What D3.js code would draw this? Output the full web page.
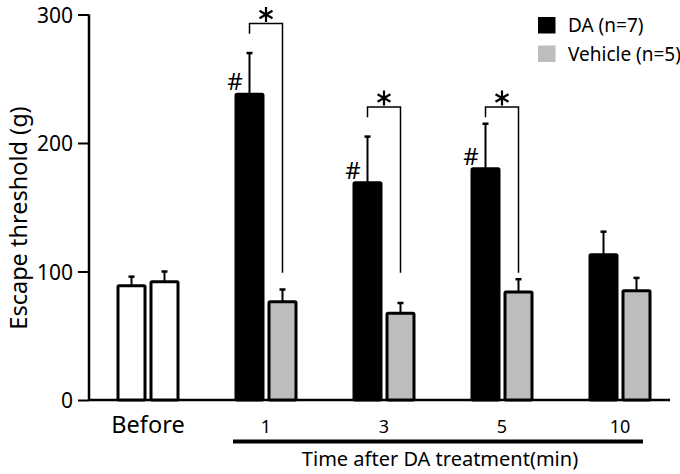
<!DOCTYPE html>
<html><head><meta charset="utf-8">
<script src="https://cdn.jsdelivr.net/npm/d3@7"></script>
<style>body{margin:0;background:#fff}svg{display:block}text{font-family:"Noto Sans","Open Sans",sans-serif;fill:#000}</style>
</head><body><div id="chart"></div>
<script>
const groups = ["Before", "1", "3", "5", "10"];
const daMean = [89, 238, 169, 180, 113];
const daErr = [7, 32, 36, 35, 18];
const vehMean = [92, 76.5, 67.5, 84, 85];
const vehErr = [8, 9.5, 8, 10, 10];
const yTicks = [0, 100, 200, 300];
const sigGroups = ["1", "3", "5"];
const bracketTop = [293, 228, 228];
const bracketLeftEnd = [285, 220, 220];
const bracketRightEnd = [99, 99, 99];
const hashGroups = ["1", "3", "5"];
const legendLabels = ["DA (n=7)", "Vehicle (n=5)"];

const W = 680, H = 474;
const svg = d3.select("#chart").append("svg").attr("width", W).attr("height", H);
const x = d3.scaleBand().domain(groups).range([89, 679]).padding(0);
const y = d3.scaleLinear().domain([0, 300]).range([400, 14.5]);
const off = 16.5, bw = 27;
const grey = "#bdbdbd";

// axis
const ya = svg.append("g").attr("transform", "translate(89,0)")
  .call(d3.axisLeft(y).tickValues(yTicks).tickSize(11).tickPadding(5));
ya.select(".domain").attr("stroke", "#000").attr("stroke-width", 2.5).attr("d", `M0,${y(0)}V${y(300)}`);
ya.selectAll(".tick line").attr("stroke", "#000").attr("stroke-width", 2);
ya.selectAll(".tick text").style("font-size", "21px").attr("dy", "0.36em");

// baseline
svg.append("line").attr("x1", 89).attr("x2", 670).attr("y1", y(0)).attr("y2", y(0)).attr("stroke", "#000").attr("stroke-width", 2.5);

const c = g => x(g) + x.bandwidth() / 2;

// error bars
function errBar(cx, m, e) {
  svg.append("line").attr("x1", cx).attr("x2", cx).attr("y1", y(m)).attr("y2", y(m + e)).attr("stroke", "#000").attr("stroke-width", 2);
  svg.append("line").attr("x1", cx - 3).attr("x2", cx + 3).attr("y1", y(m + e)).attr("y2", y(m + e)).attr("stroke", "#000").attr("stroke-width", 2.5);
}
groups.forEach((g, i) => {
  errBar(c(g) - off, daMean[i], daErr[i]);
  errBar(c(g) + off, vehMean[i], vehErr[i]);
});

// bars
groups.forEach((g, i) => {
  const before = i === 0;
  svg.append("rect").attr("x", c(g) - off - bw / 2).attr("width", bw)
    .attr("y", y(daMean[i])).attr("height", y(0) - y(daMean[i]))
    .attr("fill", before ? "#fff" : "#000").attr("stroke", "#000").attr("stroke-width", 3).attr("rx", 1);
  svg.append("rect").attr("x", c(g) + off - bw / 2).attr("width", bw)
    .attr("y", y(vehMean[i])).attr("height", y(0) - y(vehMean[i]))
    .attr("fill", before ? "#fff" : grey).attr("stroke", "#000").attr("stroke-width", 3).attr("rx", 1);
});

// brackets with asterisk marks
sigGroups.forEach((g, i) => {
  const xl = c(g) - off, xr = c(g) + off;
  svg.append("path").attr("d", `M${xl},${y(bracketLeftEnd[i])}V${y(bracketTop[i])}H${xr}V${y(bracketRightEnd[i])}`)
    .attr("fill", "none").attr("stroke", "#000").attr("stroke-width", 1.5);
  const ax = (xl + xr) / 2, ay = y(bracketTop[i]) - 9, r = 7.5;
  let d = "";
  [90, 30, 150].forEach(a => {
    const rad = a * Math.PI / 180, dx = r * Math.cos(rad), dy = r * Math.sin(rad);
    d += `M${ax - dx},${ay + dy}L${ax + dx},${ay - dy}`;
  });
  svg.append("path").attr("d", d).attr("stroke", "#000").attr("stroke-width", 2.2).attr("fill", "none");
});

// hashes
hashGroups.forEach(g => {
  const i = groups.indexOf(g);
  svg.append("text").attr("x", c(g) - off - bw / 2 - 1).attr("y", y(daMean[i]) - 4)
    .attr("text-anchor", "middle").style("font-size", "24px").text("#");
});

// x labels
svg.append("text").attr("x", c("Before")).attr("y", 433).attr("text-anchor", "middle").style("font-size", "23.5px").text("Before");
groups.slice(1).forEach(g => {
  svg.append("text").attr("x", c(g)).attr("y", 433).attr("text-anchor", "middle").style("font-size", "18px").text(g);
});
svg.append("line").attr("x1", 233).attr("x2", 643).attr("y1", 441.5).attr("y2", 441.5).attr("stroke", "#000").attr("stroke-width", 4);
svg.append("text").attr("x", 440).attr("y", 466).attr("text-anchor", "middle").style("font-size", "20px").text("Time after DA treatment(min)");

// y label
svg.append("text").attr("transform", "translate(27,218) rotate(-90)").attr("text-anchor", "middle").style("font-size", "23.5px").text("Escape threshold (g)");

// legend
const lc = ["#000", grey];
legendLabels.forEach((l, i) => {
  svg.append("rect").attr("x", 538).attr("y", 17 + i * 28.5).attr("width", 17.5).attr("height", 16.5).attr("fill", lc[i]);
  svg.append("text").attr("x", 568).attr("y", 32 + i * 28.5).style("font-size", "19px").text(l);
});
</script></body></html>
